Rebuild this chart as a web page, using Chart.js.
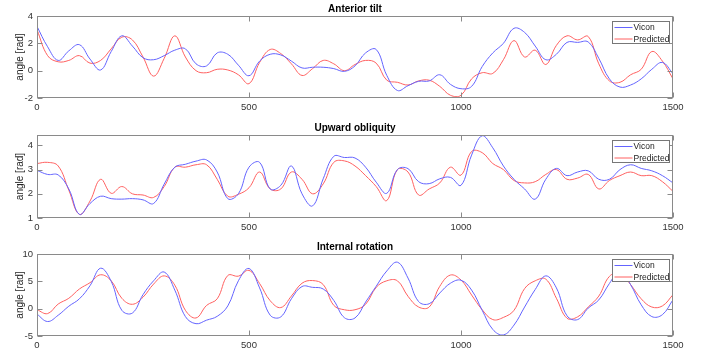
<!DOCTYPE html>
<html>
<head>
<meta charset="utf-8">
<script src="https://cdn.jsdelivr.net/npm/chart.js@4.4.1/dist/chart.umd.min.js"></script>
<style>
	body { margin: 0; background: #fff; }
	#wrap { position: relative; width: 705px; height: 358px; overflow: hidden; }
	canvas { position: absolute; left: 0; }
</style>
</head>
<body>
<div id="wrap">
	<canvas id="tilt-chart" width="705" height="118" style="top:0px"></canvas>
	<canvas id="obliq-chart" width="705" height="114" style="top:118px"></canvas>
	<canvas id="rot-chart" width="705" height="126" style="top:232px"></canvas>
</div>
<script>
// sample index (frames), read every 25 frames
const frames = [0, 25, 50, 75, 100, 125, 150, 175, 200, 225, 250, 275, 300, 325, 350, 375,
	400, 425, 450, 475, 500, 525, 550, 575, 600, 625, 650, 675, 700, 725, 750, 775,
	800, 825, 850, 875, 900, 925, 950, 975, 1000, 1025, 1050, 1075, 1100, 1125, 1150, 1175,
	1200, 1225, 1250, 1275, 1300, 1325, 1350, 1375, 1400, 1425, 1450, 1475, 1500];

const xTicks = [0, 500, 1000, 1500];

// Anterior tilt
const tiltVicon = [3.24, 1.75, 0.75, 1.45, 1.9, 0.85, 0.05, 1.4, 2.55, 1.8, 0.95, 0.8, 1.1, 1.5, 1.6, 0.5,
	0.35, 1.3, 1.2, 0.4, -0.37, 0.7, 1.2, 1.15, 0.7, 0.2, 0.25, 0.25, 0.15, -0.05, 0.35, 1.3,
	1.55, -0.35, -1.45, -1.1, -0.78, -0.75, -0.3, -1.0, -1.32, -1.15, 0.3, 1.3, 2.0, 3.1, 2.8, 1.8,
	0.8, 1.2, 2.07, 2.07, 2.1, 0.9, -0.6, -1.2, -1.05, -0.6, 0.1, 0.6, -0.22];
const tiltPred = [3.0, 1.1, 0.65, 0.75, 1.1, 0.55, 0.75, 1.6, 2.45, 2.25, 1.0, -0.4, 0.9, 2.55, 1.0, 0.0,
	-0.15, 0.1, 0.05, -0.3, -0.95, 0.6, 1.55, 1.25, 0.5, -0.35, 0.15, 0.75, 0.5, 0.0, 0.45, 0.75,
	0.55, -0.7, -0.85, -1.05, -0.75, -0.7, -1.15, -1.8, -1.8, -0.6, -0.15, -0.2, 0.8, 2.2, 1.0, 1.5,
	0.45, 1.85, 2.55, 2.25, 2.5, 0.5, -0.75, -0.85, -0.3, 0.1, 1.4, 0.7, -0.6];
const tiltTicks = [-2, 0, 2, 4];

// Upward obliquity
const obliqVicon = [2.97, 2.8, 2.78, 2.2, 1.15, 1.6, 1.9, 1.8, 1.78, 1.8, 1.75, 1.6, 2.4, 3.1, 3.22, 3.35,
	3.4, 2.9, 1.8, 2.0, 3.1, 3.3, 2.2, 2.35, 3.15, 2.0, 1.5, 2.62, 3.55, 3.5, 3.48, 3.1,
	2.48, 2.02, 3.0, 3.04, 2.5, 2.42, 2.62, 2.68, 2.35, 3.6, 4.4, 3.9, 3.15, 2.6, 2.2, 1.78,
	2.6, 3.05, 2.75, 2.9, 2.95, 2.6, 2.6, 3.0, 3.2, 3.05, 2.95, 2.75, 2.45];
const obliqPred = [3.25, 3.3, 3.15, 2.15, 1.15, 1.7, 2.6, 2.02, 2.3, 2.0, 1.95, 1.85, 2.3, 3.1, 3.1, 3.2,
	3.2, 2.6, 1.9, 1.98, 2.25, 2.9, 2.2, 2.2, 2.9, 2.6, 2.0, 2.41, 3.3, 3.36, 3.15, 2.75,
	2.3, 1.72, 3.0, 2.9, 1.95, 2.2, 2.45, 3.1, 2.77, 3.75, 3.7, 3.25, 3.0, 2.55, 2.45, 2.5,
	2.8, 3.0, 2.6, 2.65, 2.8, 2.2, 2.55, 2.75, 2.9, 2.75, 2.75, 2.5, 2.1];
const obliqTicks = [1, 2, 3, 4];

// Internal rotation
const rotVicon = [-1.0, -2.35, -1.2, 0.45, 1.8, 4.2, 7.4, 5.0, -0.3, -0.8, 2.56, 5.1, 6.7, 3.4, -1.45, -2.75,
	-2.1, -1.4, 0.5, 5.1, 7.35, 3.8, -1.2, -1.5, 1.8, 4.05, 3.9, 3.6, 1.5, -1.65, -1.7, 1.2,
	4.1, 6.9, 8.5, 5.6, 1.3, 0.9, 2.87, 4.65, 5.2, 3.4, -0.3, -3.8, -4.8, -3.0, 0.3, 3.5,
	6.0, 3.8, -1.3, -2.0, 0.1, 1.6, 4.6, 7.0, 4.4, 0.7, -1.45, -1.1, 1.64];
const rotPred = [-0.2, -0.9, 0.85, 1.9, 3.6, 4.75, 6.2, 5.1, 1.9, 0.8, 2.1, 4.5, 6.0, 4.3, -0.3, -1.7,
	0.6, 1.8, 6.07, 5.95, 7.0, 4.6, 1.45, 0.2, 2.3, 4.65, 5.14, 4.41, 0.6, -0.2, -0.2, 0.8,
	3.9, 5.1, 5.1, 2.26, 0.3, 0.3, 4.1, 6.15, 5.25, 2.5, -0.2, -2.0, -1.6, -0.3, 3.67, 5.1,
	5.4, 1.9, -1.75, -1.5, 0.3, 2.3, 5.9, 6.5, 4.4, 1.8, 0.3, 0.5, 2.56];
const rotTicks = [-5, 0, 5, 10];

const FONT = '"Liberation Sans", Arial, sans-serif';

// box, inward ticks, title and legend drawn like a matlab subplot
const matlabAxes = {
	id: 'matlabAxes',
	afterDatasetsDraw(chart, args, opts) {
		const { ctx, chartArea: a, scales } = chart;
		const L = Math.round(a.left) + 0.5, R = Math.round(a.right) - 0.5;
		const T = Math.round(a.top) + 0.5, B = Math.round(a.bottom) - 0.5;
		ctx.save();
		ctx.strokeStyle = '#8a8a8a';
		ctx.lineWidth = 1;
		ctx.strokeRect(L, T, R - L, B - T);
		ctx.beginPath();
		xTicks.forEach(v => {
			const px = Math.round(scales.x.getPixelForValue(v)) + 0.5;
			ctx.moveTo(px, T); ctx.lineTo(px, T + 5);
			ctx.moveTo(px, B); ctx.lineTo(px, B - 5);
		});
		opts.yTicks.forEach(v => {
			const py = Math.round(scales.y.getPixelForValue(v)) + 0.5;
			ctx.moveTo(L, py); ctx.lineTo(L + 5, py);
			ctx.moveTo(R, py); ctx.lineTo(R - 5, py);
		});
		ctx.stroke();

		// title
		ctx.fillStyle = '#000';
		ctx.font = 'bold 10px ' + FONT;
		ctx.textAlign = 'center';
		ctx.textBaseline = 'middle';
		ctx.fillText(opts.title, (a.left + a.right) / 2, a.top - 7);

		// legend
		const bw = 57, bh = 22;
		const bx = Math.round(a.right - 4 - bw) + 0.5, by = Math.round(a.top + 5) + 0.5;
		ctx.fillStyle = '#fff';
		ctx.fillRect(bx, by, bw, bh);
		ctx.strokeStyle = '#777';
		ctx.strokeRect(bx, by, bw, bh);
		ctx.font = '8.5px ' + FONT;
		ctx.textAlign = 'left';
		chart.data.datasets.forEach((ds, i) => {
			const ly = by + 6 + i * 11.5;
			ctx.strokeStyle = ds.borderColor;
			ctx.beginPath();
			ctx.moveTo(bx + 2, ly); ctx.lineTo(bx + 20, ly);
			ctx.stroke();
			ctx.fillStyle = '#222';
			ctx.fillText(ds.label, bx + 21, ly + 0.5);
		});
		ctx.restore();
	}
};

function makeChart(id, title, vicon, predicted, yMin, yMax, yTicks, padTop, xAxisH) {
	const el = document.getElementById(id);
	if (!el) return;
	new Chart(el, {
		type: 'line',
		data: {
			labels: frames,
			datasets: [{
				label: 'Vicon',
				data: vicon,
				borderColor: '#6464ff',
				borderWidth: 1,
				pointRadius: 0,
				tension: 0.4
			}, {
				label: 'Predicted',
				data: predicted,
				borderColor: '#ff6060',
				borderWidth: 1,
				pointRadius: 0,
				tension: 0.4
			}]
		},
		options: {
			responsive: false,
			animation: false,
			events: [],
			layout: { padding: { top: padTop, right: 32, left: 0, bottom: 0 } },
			plugins: {
				legend: { display: false },
				tooltip: { enabled: false },
				matlabAxes: { title: title, yTicks: yTicks }
			},
			scales: {
				x: {
					type: 'linear',
					min: 0,
					max: 1500,
					grid: { display: false, drawTicks: false },
					border: { display: false },
					afterBuildTicks: s => { s.ticks = xTicks.map(v => ({ value: v })); },
					afterFit: s => { s.height = xAxisH; },
					ticks: {
						padding: 4,
						maxRotation: 0,
						color: '#333',
						font: { size: 9.5, family: FONT },
						callback: v => String(v)
					}
				},
				y: {
					min: yMin,
					max: yMax,
					grid: { display: false, drawTicks: false },
					border: { display: false },
					afterBuildTicks: s => { s.ticks = yTicks.map(v => ({ value: v })); },
					afterFit: s => { s.width = 37; },
					ticks: { padding: 4, color: '#333', font: { size: 9.5, family: FONT }, callback: v => String(v) },
					title: {
						display: true,
						text: 'angle [rad]',
						color: '#222',
						font: { size: 10, family: FONT },
						padding: { top: 14, bottom: 0 }
					}
				}
			}
		},
		plugins: [matlabAxes]
	});
}

document.addEventListener('DOMContentLoaded', () => {
	makeChart('tilt-chart', 'Anterior tilt', tiltVicon, tiltPred, -2, 4, tiltTicks, 16, 20);
	makeChart('obliq-chart', 'Upward obliquity', obliqVicon, obliqPred, 1, 4.43, obliqTicks, 17, 14);
	makeChart('rot-chart', 'Internal rotation', rotVicon, rotPred, -5, 10, rotTicks, 22, 22);
});
</script>
</body>
</html>
